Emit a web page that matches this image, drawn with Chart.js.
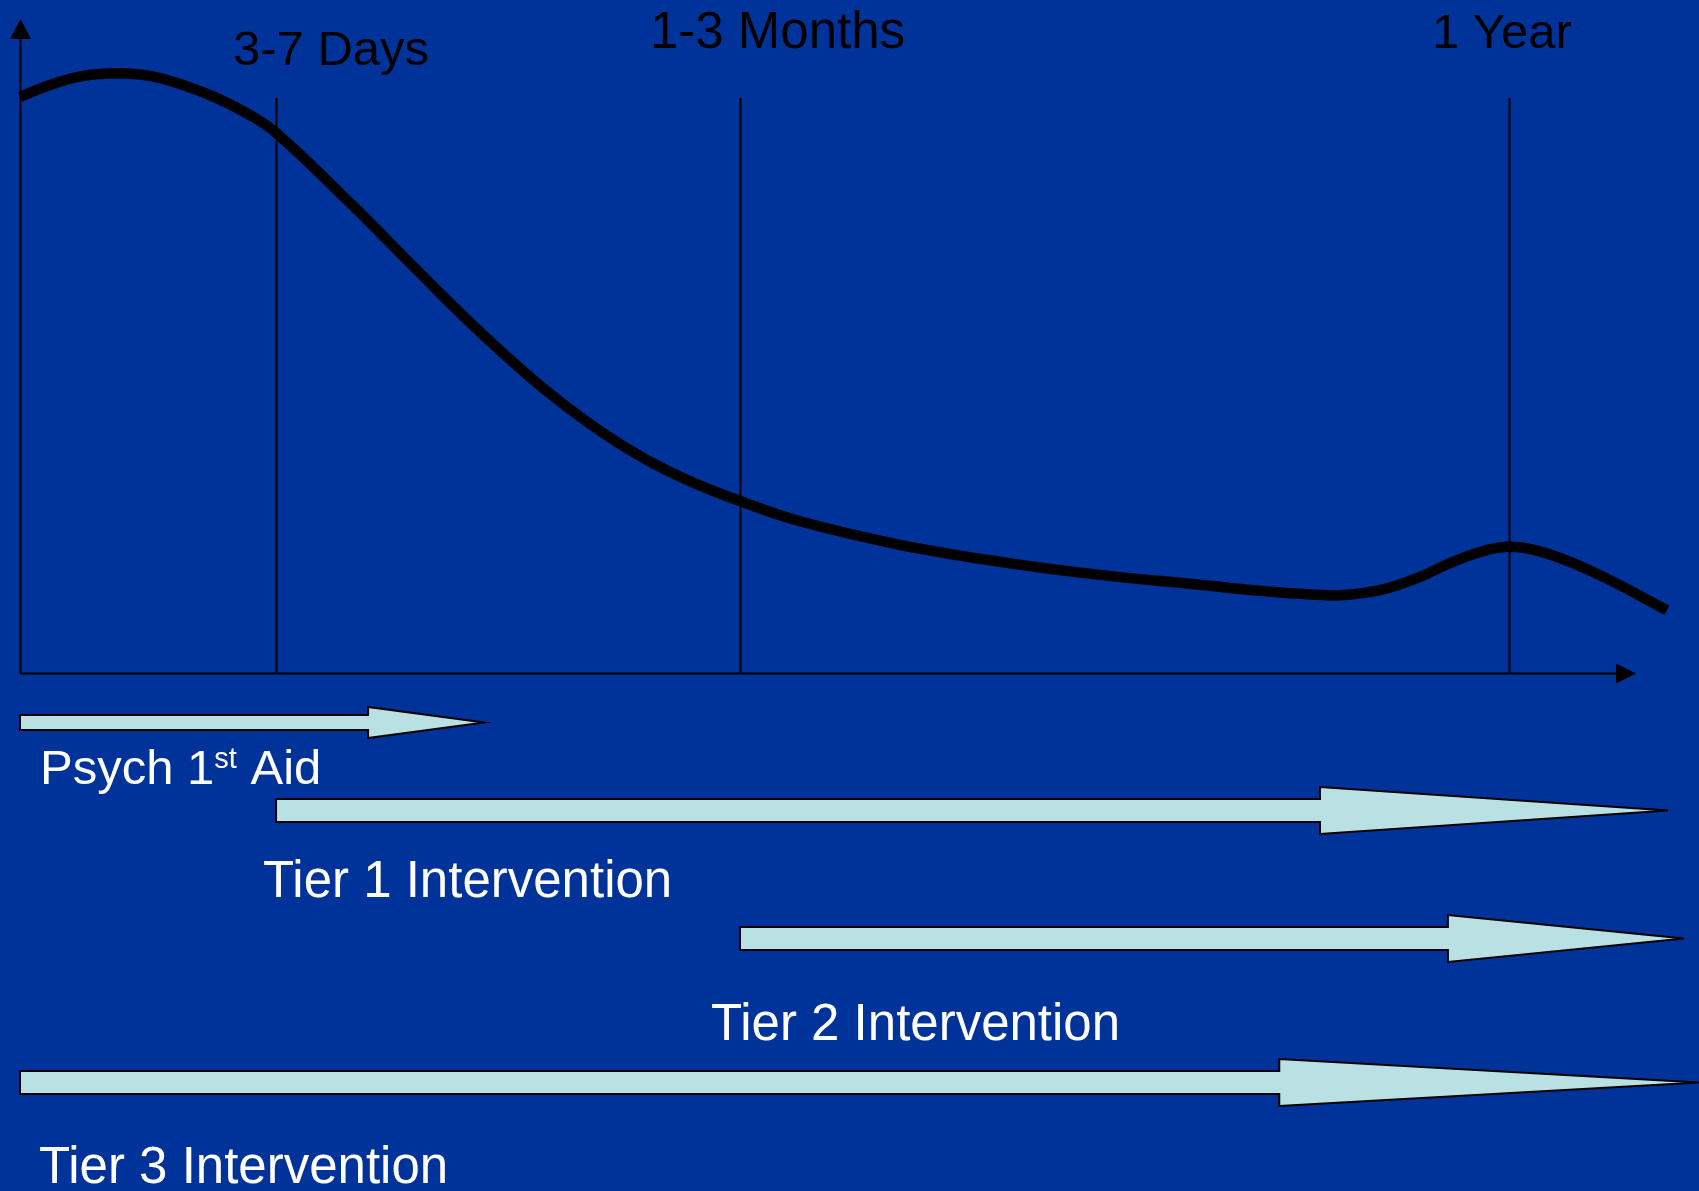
<!DOCTYPE html>
<html>
<head>
<meta charset="utf-8">
<title>Stress reaction over time and intervention tiers</title>
<script src="https://cdn.jsdelivr.net/npm/chart.js@4/dist/chart.umd.min.js"></script>
<style>
  html, body { margin: 0; padding: 0; background: #003399; }
  #wrap { position: relative; width: 1699px; height: 1191px; }
</style>
</head>
<body>
<div id="wrap"><canvas id="chart"></canvas></div>
<script>
// Timeline runs 0..100 (onset to beyond one year); level runs 0..100.
const curveTime  = [0, 1.79, 3.75, 5.78, 7.74, 9.71, 11.73, 13.70, 15.25, 19.65, 23.65, 27.58,
                    31.57, 35.56, 39.49, 42.88, 46.46, 52.41, 58.37, 64.32, 70.28, 73.26,
                    76.24, 78.62, 81.18, 83.38, 85.17, 86.96, 88.56, 90.23, 92.32, 94.70, 98.09];
const curveLevel = [88.1, 89.9, 91.3, 91.7, 91.3, 89.9, 87.9, 85.3, 82.6, 71.9, 61.6, 51.7,
                    42.7, 35.3, 29.8, 26.3, 23.2, 19.6, 17.0, 15.0, 13.5, 12.7,
                    12.1, 11.9, 12.8, 14.7, 16.8, 18.5, 19.3, 18.8, 17.0, 14.2, 9.6];

// Phase markers along the timeline
const phaseLabels = ['3-7 Days', '1-3 Months', '1 Year'];
const phaseTimes  = [15.25, 42.88, 88.68];

// Intervention spans (start / end on the timeline)
const interventionNames = [
  [{ text: 'Psych 1' }, { text: 'st', sup: true }, { text: ' Aid' }],
  [{ text: 'Tier 1 Intervention' }],
  [{ text: 'Tier 2 Intervention' }],
  [{ text: 'Tier 3 Intervention' }]
];
const interventionStart = [0, 15.25, 42.88, 0];
const interventionEnd   = [27.64, 98.15, 99.1, 100];

// ---- drawing layout ----
const AXIS_END = 96.25;            // timeline value of the x-axis arrow tip
const FONT = '"Liberation Sans", Arial, sans-serif';
const lane = {                     // pixel offsets below the time axis
  center:  [49.5, 137.5, 265.5, 409.5],
  shaft:   [15, 23, 23, 23],
  head:    [31, 47, 47, 47],
  labelDx: [20, -13, -29, 19],
  labelDy: [111, 224, 367, 510],
  fontPx:  [49, 51, 51, 51]
};
const phaseLabelDx = [-43, -90, -77];
const phaseLabelBaseline = [65, 48, 48];
const phaseFontPx = [49, 51, 49];

const points = curveTime.map((t, i) => ({ x: t, y: curveLevel[i] }));

const diagramPlugin = {
  id: 'diagram',
  beforeDatasetsDraw(chart) {
    const { ctx, scales: { x, y } } = chart;
    const x0 = x.getPixelForValue(0);
    const y0 = y.getPixelForValue(0);
    const yTop = y.getPixelForValue(100);
    ctx.save();
    ctx.strokeStyle = '#000';
    ctx.fillStyle = '#000';
    ctx.lineWidth = 2;

    // phase marker lines
    phaseTimes.forEach(t => {
      const px = Math.round(x.getPixelForValue(t)) + 0.5;
      ctx.beginPath();
      ctx.moveTo(px, 98);
      ctx.lineTo(px, y0);
      ctx.stroke();
    });

    // vertical axis with arrow
    ctx.beginPath();
    ctx.moveTo(x0 + 0.5, y0);
    ctx.lineTo(x0 + 0.5, yTop + 20);
    ctx.stroke();
    ctx.beginPath();
    ctx.moveTo(x0 + 0.5, yTop);
    ctx.lineTo(x0 - 10, yTop + 20);
    ctx.lineTo(x0 + 11, yTop + 20);
    ctx.closePath();
    ctx.fill();

    // horizontal axis with arrow
    const xTip = x.getPixelForValue(AXIS_END);
    ctx.beginPath();
    ctx.moveTo(x0, y0 + 0.5);
    ctx.lineTo(xTip - 20, y0 + 0.5);
    ctx.stroke();
    ctx.beginPath();
    ctx.moveTo(xTip, y0 + 0.5);
    ctx.lineTo(xTip - 20, y0 - 9.5);
    ctx.lineTo(xTip - 20, y0 + 10.5);
    ctx.closePath();
    ctx.fill();

    // phase labels
    ctx.textBaseline = 'alphabetic';
    ctx.textAlign = 'left';
    phaseLabels.forEach((lbl, i) => {
      ctx.font = phaseFontPx[i] + 'px ' + FONT;
      ctx.fillText(lbl, x.getPixelForValue(phaseTimes[i]) + phaseLabelDx[i], phaseLabelBaseline[i]);
    });
    ctx.restore();
  },
  afterDraw(chart) {
    const { ctx, scales: { x, y } } = chart;
    const y0 = y.getPixelForValue(0);
    ctx.save();
    interventionNames.forEach((segs, i) => {
      const xs = x.getPixelForValue(interventionStart[i]);
      const xe = x.getPixelForValue(interventionEnd[i]);
      const xh = xe - (xe - xs) * 0.25;
      const cy = y0 + lane.center[i];
      const hs = lane.shaft[i] / 2, hh = lane.head[i] / 2;

      // block arrow
      ctx.beginPath();
      ctx.moveTo(xs, cy - hs);
      ctx.lineTo(xh, cy - hs);
      ctx.lineTo(xh, cy - hh);
      ctx.lineTo(xe, cy);
      ctx.lineTo(xh, cy + hh);
      ctx.lineTo(xh, cy + hs);
      ctx.lineTo(xs, cy + hs);
      ctx.closePath();
      ctx.fillStyle = '#B9E0E2';
      ctx.fill();
      ctx.lineWidth = 2;
      ctx.lineJoin = 'miter';
      ctx.strokeStyle = '#000';
      ctx.stroke();

      // label
      let tx = xs + lane.labelDx[i];
      const by = y0 + lane.labelDy[i];
      const fp = lane.fontPx[i];
      ctx.fillStyle = '#ffffff';
      ctx.textAlign = 'left';
      ctx.textBaseline = 'alphabetic';
      segs.forEach(seg => {
        ctx.font = (seg.sup ? Math.round(fp * 0.6) : fp) + 'px ' + FONT;
        ctx.fillText(seg.text, tx, seg.sup ? by - 16 : by);
        tx += ctx.measureText(seg.text).width;
      });
    });
    ctx.restore();
  }
};

function build() {
  new Chart(document.getElementById('chart'), {
    type: 'line',
    data: {
      datasets: [{
        data: points,
        borderColor: '#000000',
        borderWidth: 10.5,
        borderCapStyle: 'butt',
        borderJoinStyle: 'round',
        pointRadius: 0,
        fill: false,
        tension: 0.4,
        clip: false
      }]
    },
    options: {
      responsive: true,
      maintainAspectRatio: false,
      devicePixelRatio: 1,
      animation: false,
      events: [],
      layout: { padding: { left: 20, top: 19, right: 0, bottom: 518 } },
      scales: {
        x: { type: 'linear', min: 0, max: 100, display: false },
        y: { type: 'linear', min: 0, max: 100, display: false }
      },
      plugins: { legend: { display: false }, tooltip: { enabled: false } }
    },
    plugins: [diagramPlugin]
  });
}

if (document.fonts && document.fonts.load) {
  Promise.all([
    document.fonts.load('50px "Liberation Sans"'),
    document.fonts.load('30px "Liberation Sans"')
  ]).then(build, build);
} else {
  build();
}
</script>
</body>
</html>
